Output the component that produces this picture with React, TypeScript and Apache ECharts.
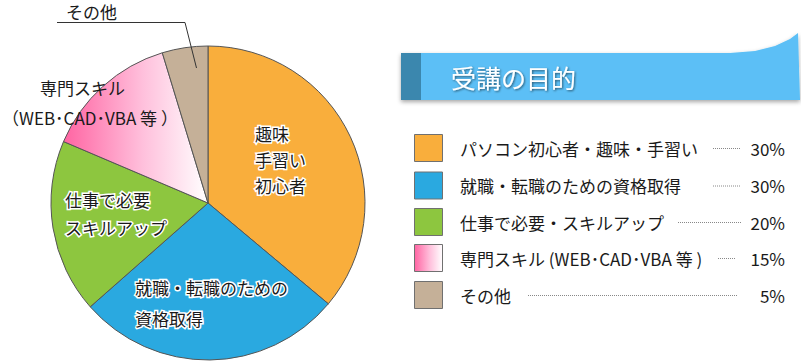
import React, { useEffect, useRef } from "react";
import * as echarts from "echarts";

const categories = [
  "パソコン初心者・趣味・手習い",
  "就職・転職のための資格取得",
  "仕事で必要・スキルアップ",
  "専門スキル (WEB･CAD･VBA 等 )",
  "その他",
];
const legendPercents = ["30%", "30%", "20%", "15%", "5%"];
// slice shares as drawn in the pie (measured angles)
const sliceShares = [36.1, 27.4, 17.9, 13.9, 4.7];
const sliceLabels = [
  "趣味\n手習い\n初心者",
  "就職・転職のための\n資格取得",
  "仕事で必要\nスキルアップ",
  "専門スキル",
  "その他",
];
const pinkSubLabel = "（WEB･CAD･VBA 等 ）";
const title = "受講の目的";

const FONT = '"Noto Sans CJK JP", "Noto Sans", sans-serif';
const FS = 17;

// layout: dotted leader spans in legend rows
const leaderStart = [713, 713, 678, 718, 528];
const leaderEnd = [741, 741, 741, 736, 737];

const pinkGrad = () =>
  new echarts.graphic.LinearGradient(0, 0, 1, 0, [
    { offset: 0, color: "#ff64a2" },
    { offset: 0.55, color: "#ffc0dc" },
    { offset: 1, color: "#ffffff" },
  ]);
const colors = ["#f9ae3c", "#2aa9e0", "#8dc63f", null, "#c5b098"];

export default function App() {
  const ref = useRef<HTMLDivElement>(null);
  useEffect(() => {
    document.body.style.margin = "0";
    const chart = echarts.init(ref.current!, null, { renderer: "svg" });
    const cx = 208, cy = 203, r = 157;

    const data = categories.map((name, i) => ({
      name,
      value: sliceShares[i],
      itemStyle: { color: i === 3 ? pinkGrad() : colors[i] },
    }));

    const inLabel = (text: string, x: number, y: number, lh: number) => ({
      type: "text",
      x,
      y,
      z: 100,
      style: {
        text,
        font: `${FS}px ${FONT}`,
        fill: "#1a1a1a",
        lineHeight: lh,
        verticalAlign: "top",
        stroke: "#ffffff",
        lineWidth: 3,
      },
    });
    const plain = (text: string, x: number, y: number) => ({
      type: "text",
      x,
      y,
      z: 100,
      style: { text, font: `${FS}px ${FONT}`, fill: "#1a1a1a", verticalAlign: "middle" },
    });

    const graphics: any[] = [
      inLabel(sliceLabels[0], 255, 120, 26),
      inLabel(sliceLabels[1], 135, 272, 31),
      inLabel(sliceLabels[2], 65, 185, 28),
      plain(sliceLabels[3], 40, 87),
      plain(pinkSubLabel, 2, 117),
      plain(sliceLabels[4], 66, 11),
      {
        type: "polyline",
        z: 100,
        shape: { points: [[57, 22.5], [185, 22.5], [196.5, 68]] },
        style: { stroke: "#333", lineWidth: 1, fill: null },
      },
      // banner
      {
        type: "polygon",
        shape: {
          points: [
            [401, 53], [730, 53], [755, 51], [775, 46], [790, 39], [798, 33],
            [800, 100], [401, 100],
          ],
        },
        style: {
          fill: "#5bbff6",
          shadowColor: "rgba(0,0,0,0.35)",
          shadowBlur: 4,
          shadowOffsetY: 2,
        },
      },
      {
        type: "rect",
        shape: { x: 401, y: 53, width: 20, height: 47 },
        style: { fill: "#3b87ae" },
      },
      {
        type: "text",
        x: 451, y: 77,
        style: {
          text: title,
          font: `25px ${FONT}`,
          fill: "#ffffff",
          verticalAlign: "middle",
          textShadowColor: "rgba(0,0,0,0.55)",
          textShadowBlur: 2,
          textShadowOffsetX: 1,
          textShadowOffsetY: 1,
        },
      },
    ];

    const rowY = [148, 185.5, 222, 258, 295];
    categories.forEach((name, i) => {
      const y = rowY[i];
      graphics.push({
        type: "rect",
        shape: { x: 414.5, y: y - 13.5, width: 28, height: 27 },
        style: {
          fill: i === 3 ? pinkGrad() : colors[i],
          stroke: "#707070",
          lineWidth: 1,
        },
      });
      graphics.push(plain(name, 460, y));
      graphics.push({
        type: "line",
        shape: { x1: leaderStart[i], y1: y + 0.5, x2: leaderEnd[i], y2: y + 0.5 },
        style: { stroke: "#888", lineWidth: 1, lineDash: [1, 1] },
      });
      graphics.push({
        type: "text",
        x: 785,
        y,
        style: {
          text: legendPercents[i],
          font: `${FS}px ${FONT}`,
          fill: "#1a1a1a",
          align: "right",
          verticalAlign: "middle",
        },
      });
    });

    chart.setOption({
      animation: false,
      backgroundColor: "#ffffff",
      series: [
        {
          type: "pie",
          center: [cx, cy],
          radius: r,
          startAngle: 90,
          clockwise: true,
          data,
          label: { show: false },
          labelLine: { show: false },
          itemStyle: { borderColor: "#555", borderWidth: 1 },
          emphasis: { disabled: true },
        },
      ],
      graphic: graphics,
    });
    return () => chart.dispose();
  }, []);
  return <div ref={ref} style={{ width: 801, height: 362 }} />;
}
